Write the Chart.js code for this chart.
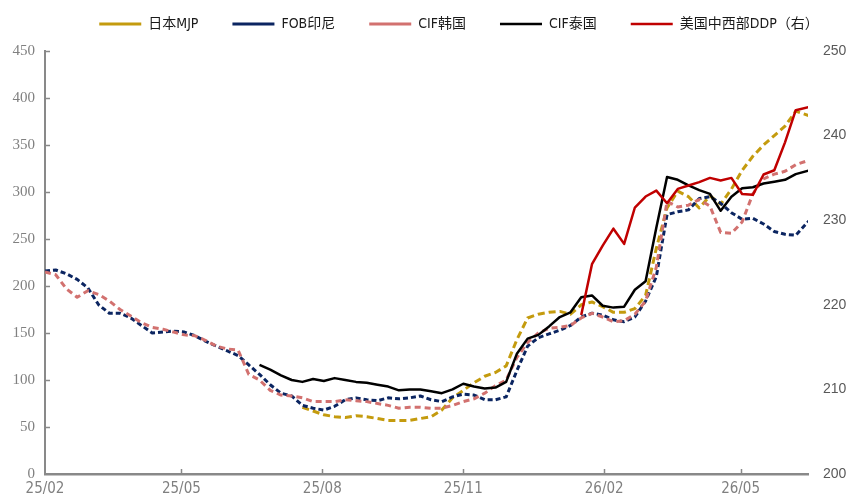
<!DOCTYPE html>
<html><head><meta charset="utf-8">
<script src="https://cdn.jsdelivr.net/npm/chart.js@4.4.1/dist/chart.umd.min.js"></script>
<style>html,body{margin:0;padding:0;background:#fff;}#wrap{width:846px;height:500px;}</style>
</head><body><div id="wrap"><canvas id="c" width="846" height="500"></canvas></div>
<script>
const dates = ['2025-02-01','2025-02-08','2025-02-15','2025-02-22','2025-03-01','2025-03-08','2025-03-15','2025-03-22','2025-03-29','2025-04-05',
'2025-04-12','2025-04-19','2025-04-26','2025-05-03','2025-05-10','2025-05-17','2025-05-24','2025-05-31','2025-06-07','2025-06-14',
'2025-06-21','2025-06-28','2025-07-05','2025-07-12','2025-07-19','2025-07-26','2025-08-02','2025-08-09','2025-08-16','2025-08-23',
'2025-08-30','2025-09-06','2025-09-13','2025-09-20','2025-09-27','2025-10-04','2025-10-11','2025-10-18','2025-10-25','2025-11-01',
'2025-11-08','2025-11-15','2025-11-22','2025-11-29','2025-12-06','2025-12-13','2025-12-20','2025-12-27','2026-01-03','2026-01-10',
'2026-01-17','2026-01-24','2026-01-31','2026-02-07','2026-02-14','2026-02-21','2026-02-28','2026-03-07','2026-03-14','2026-03-21',
'2026-03-28','2026-04-04','2026-04-11','2026-04-18','2026-04-25','2026-05-02','2026-05-09','2026-05-16','2026-05-23','2026-05-30',
'2026-06-06','2026-06-15'];

const japanMJP = [null,null,null,null,null,null,null,null,null,null,
null,null,null,null,null,null,null,null,null,null,
null,null,null,null,71,67,63,61,60,62,
61,59,57,57,57,59,61,68,81,89,
97,104,108,115,143,166,170,172,173,170,
180,183,178,172,172,176,190,240,283,301,
295,283,296,287,303,323,338,350,360,370,
386,381];

const fobIndonesia = [216,217,213,207,198,180,171,171,166,158,
150,151,152,151,147,141,136,131,126,116,
106,95,86,83,73,70,68,72,79,81,
79,78,81,80,81,83,79,77,82,85,
84,79,79,82,110,136,145,149,153,158,
167,171,169,164,162,167,184,210,276,279,
281,293,295,288,278,271,272,266,258,255,
254,270];

const cifKorea = [215,212,197,188,195,191,184,175,168,161,
156,154,151,148,147,142,136,133,132,106,
100,89,84,83,81,77,77,77,79,78,
77,75,73,70,71,71,70,70,73,77,
80,86,94,100,124,140,150,155,156,158,
166,171,167,162,163,170,184,220,290,284,
286,292,285,257,256,268,298,314,319,322,
329,334];

const cifThailand = [null,null,null,null,null,null,null,null,null,null,
null,null,null,null,null,null,null,null,null,null,
116,111,105,100,98,101,99,102,100,98,
97,95,93,89,90,90,88,86,90,96,
93,91,92,98,128,144,148,157,167,172,
188,190,179,177,178,196,205,262,316,313,
307,302,298,280,295,304,305,309,311,313,
319,323];

const usMidwestDDP = [null,null,null,null,null,null,null,null,null,null,
null,null,null,null,null,null,null,null,null,null,
null,null,null,null,null,null,null,null,null,null,
null,null,null,null,null,null,null,null,null,null,
null,null,null,null,null,null,null,null,null,null,
218.8,224.8,227,229,227.2,231.5,232.8,233.5,232,233.7,
234.1,234.5,235,234.7,235,233.1,233,235.4,235.9,239.2,
243,243.4];

const seriesNames = ['日本MJP','FOB印尼','CIF韩国','CIF泰国','美国中西部DDP（右）'];
const tickDates = ['2025-02-01','2025-05-01','2025-08-01','2025-11-01','2026-02-01','2026-05-01'];
const tickLabels = ['25/02','25/05','25/08','25/11','26/02','26/05'];
const xEndDate = '2026-06-14';

const t0 = Date.parse(dates[0]);
const dayOf = s => (Date.parse(s) - t0) / 864e5;
const tickDays = tickDates.map(dayOf);
const pts = arr => dates.map((d, i) => ({x: dayOf(d), y: arr[i]}));

const AXIS = '#898989';

const insideTicks = {
  id: 'insideTicks',
  afterDraw(chart) {
    const ctx = chart.ctx, x = chart.scales.x, y = chart.scales.y;
    ctx.save();
    ctx.strokeStyle = AXIS; ctx.lineWidth = 1.5;
    x.ticks.forEach((t, i) => {
      if (i === 0) return;
      const px = Math.round(x.getPixelForValue(t.value)) + 0.5;
      ctx.beginPath(); ctx.moveTo(px, x.top); ctx.lineTo(px, x.top - 5); ctx.stroke();
    });
    y.ticks.forEach((t, i) => {
      if (i === 0) return;
      const py = Math.round(y.getPixelForValue(t.value)) + 0.5;
      ctx.beginPath(); ctx.moveTo(y.right, py); ctx.lineTo(y.right + 5, py); ctx.stroke();
    });
    ctx.restore();
  }
};
const legendFix = {
  id: 'legendFix',
  beforeInit(chart) {
    const orig = chart.legend.fit;
    chart.legend.fit = function () { orig.call(this); this.height = 51; };
  },
  afterLayout(chart) {
    const lg = chart.legend;
    lg.left += 36; lg.right += 36;
    lg.top -= 17; lg.bottom -= 17;
  }
};

const common = {pointRadius: 0, pointHoverRadius: 0, tension: 0, fill: false, spanGaps: false, pointStyle: 'line', borderJoinStyle: 'round'};

new Chart(document.getElementById('c'), {
  type: 'line',
  data: {
    datasets: [
      Object.assign({}, common, {label: seriesNames[0], data: pts(japanMJP), borderColor: '#C49B0E', backgroundColor: '#C49B0E', borderWidth: 3, borderDash: [7, 4], yAxisID: 'y', order: 5}),
      Object.assign({}, common, {label: seriesNames[1], data: pts(fobIndonesia), borderColor: '#0B2561', backgroundColor: '#0B2561', borderWidth: 3, borderDash: [5, 3], yAxisID: 'y', order: 4}),
      Object.assign({}, common, {label: seriesNames[2], data: pts(cifKorea), borderColor: '#D2716F', backgroundColor: '#D2716F', borderWidth: 3, borderDash: [6, 4], yAxisID: 'y', order: 3}),
      Object.assign({}, common, {label: seriesNames[3], data: pts(cifThailand), borderColor: '#000000', backgroundColor: '#000000', borderWidth: 2.5, yAxisID: 'y', order: 2}),
      Object.assign({}, common, {label: seriesNames[4], data: pts(usMidwestDDP), borderColor: '#C00000', backgroundColor: '#C00000', borderWidth: 2.5, yAxisID: 'y1', order: 1})
    ]
  },
  options: {
    responsive: false,
    animation: false,
    events: [],
    layout: {padding: {left: 0, right: 0, top: 0, bottom: 0}},
    plugins: {
      legend: {
        position: 'top',
        align: 'center',
        labels: {
          usePointStyle: true,
          pointStyleWidth: 42,
          padding: 34,
          color: '#1a1a1a',
          sort: (a, b) => a.datasetIndex - b.datasetIndex,
          font: {family: "'Liberation Sans Narrow','DejaVu Sans Condensed','Noto Sans CJK SC'", size: 14}
        }
      },
      tooltip: {enabled: false}
    },
    scales: {
      x: {
        type: 'linear',
        min: 0,
        max: dayOf(xEndDate),
        afterBuildTicks: s => { s.ticks = tickDays.map(v => ({value: v})); },
        afterFit: s => { s.height = 26; },
        grid: {display: false, drawTicks: false},
        border: {display: true, color: AXIS, width: 2.5},
        ticks: {
          autoSkip: false, maxRotation: 0, padding: 6,
          color: '#808080',
          font: {family: "'Liberation Sans Narrow','DejaVu Sans Condensed',sans-serif", size: 15},
          callback: v => tickLabels[tickDays.indexOf(v)]
        }
      },
      y: {
        position: 'left',
        min: 0, max: 450,
        afterFit: s => { s.width = 45; },
        grid: {display: false, drawTicks: false},
        border: {display: true, color: AXIS, width: 2},
        ticks: {stepSize: 50, padding: 10, color: '#808080', font: {family: "'Liberation Serif',serif", size: 15}}
      },
      y1: {
        position: 'right',
        min: 200, max: 250,
        afterFit: s => { s.width = 38; },
        grid: {display: false, drawTicks: false},
        border: {display: false},
        ticks: {stepSize: 10, padding: 15, color: '#595959', font: {family: "'Liberation Sans',sans-serif", size: 14}}
      }
    }
  },
  plugins: [insideTicks, legendFix]
});
</script>
</body></html>
